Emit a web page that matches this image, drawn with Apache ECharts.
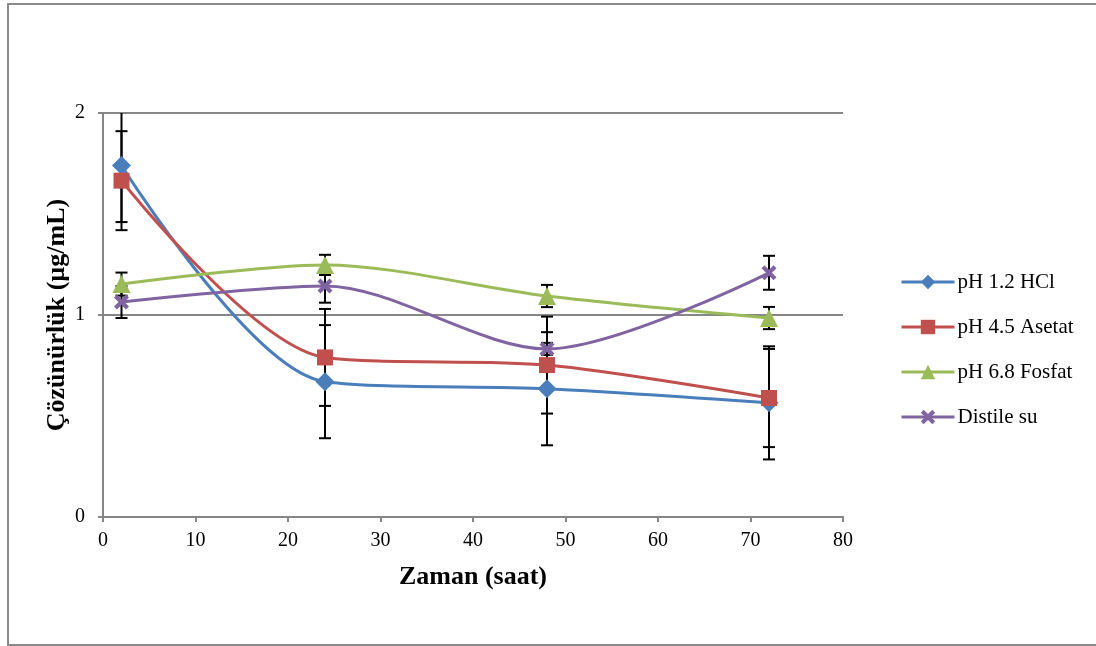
<!DOCTYPE html>
<html>
<head>
<meta charset="utf-8">
<script src="https://cdn.jsdelivr.net/npm/echarts@6/dist/echarts.min.js"></script>
<style>
  html, body { margin: 0; padding: 0; background: #fff; }
  #chart { width: 1096px; height: 646px; }
</style>
</head>
<body>
<div id="chart"></div>
<script>
// saat
const hours = [2, 24, 48, 72];
const xTicks = [0, 10, 20, 30, 40, 50, 60, 70, 80];
const yTicks = [0, 1, 2];

// Çözünürlük (µg/mL) ve standart sapma
const hcl = [1.74, 0.67, 0.635, 0.565];
const hclErr = [0.28, 0.28, 0.28, 0.28];
const asetat = [1.665, 0.79, 0.752, 0.589];
const asetatErr = [0.245, 0.24, 0.24, 0.243];
const fosfat = [1.153, 1.248, 1.094, 0.985];
const fosfatErr = [0.057, 0.05, 0.055, 0.055];
const distile = [1.064, 1.144, 0.832, 1.209];
const distileErr = [0.079, 0.083, 0.03, 0.084];

const font = '"Liberation Serif", "Times New Roman", serif';
const xMark = 'path://M0,2 L2,0 L5,3 L8,0 L10,2 L7,5 L10,8 L8,10 L5,7 L2,10 L0,8 L3,5 Z';

const groups = [
  { name: 'pH 1.2 HCl', vals: hcl, err: hclErr, color: '#4a7ebb', symbol: 'diamond', size: 19 },
  { name: 'pH 4.5 Asetat', vals: asetat, err: asetatErr, color: '#c0504d', symbol: 'rect', size: 16 },
  { name: 'pH 6.8 Fosfat', vals: fosfat, err: fosfatErr, color: '#9bbb59', symbol: 'triangle', size: 18 },
  { name: 'Distile su', vals: distile, err: distileErr, color: '#8064a2', symbol: xMark, size: 15 }
];

const errData = [];
groups.forEach(g => {
  hours.forEach((h, i) => {
    errData.push([h, g.vals[i] - g.err[i], g.vals[i] + g.err[i]]);
  });
});

const chart = echarts.init(document.getElementById('chart'));

const lineSeries = groups.map(g => ({
  name: g.name,
  type: 'line',
  smooth: 0.3,
  data: hours.map((h, i) => [h, g.vals[i]]),
  color: g.color,
  symbol: g.symbol,
  symbolSize: g.size,
  showAllSymbol: true,
  lineStyle: { width: 3, color: g.color },
  itemStyle: { color: g.color, borderWidth: 0 },
  z: 3
}));

const errSeries = {
  type: 'custom',
  name: 'err',
  clip: true,
  z: 2,
  data: errData,
  renderItem: (params, api) => {
    const top = api.coord([api.value(0), api.value(2)]);
    const bot = api.coord([api.value(0), api.value(1)]);
    const w = 6;
    const style = { stroke: '#000', lineWidth: 2 };
    return {
      type: 'group',
      children: [
        { type: 'line', shape: { x1: top[0], y1: top[1], x2: bot[0], y2: bot[1] }, style },
        { type: 'line', shape: { x1: top[0] - w, y1: top[1], x2: top[0] + w, y2: top[1] }, style },
        { type: 'line', shape: { x1: bot[0] - w, y1: bot[1], x2: bot[0] + w, y2: bot[1] }, style }
      ]
    };
  }
};

const option = {
  backgroundColor: '#fff',
  animation: false,
  graphic: [{
    type: 'rect',
    shape: { x: 8, y: 4, width: 1200, height: 641 },
    style: { fill: 'none', stroke: '#8a8a8a', lineWidth: 2 },
    silent: true
  }],
  grid: { left: 103, right: 253, top: 113, bottom: 129 },
  legend: {
    orient: 'vertical',
    left: 895,
    top: 266,
    itemWidth: 53,
    itemHeight: 18,
    itemGap: 23,
    data: groups.map(g => g.name),
    lineStyle: { width: 3 },
    textStyle: { fontFamily: font, fontSize: 21, lineHeight: 22, color: '#000', padding: [0, 0, 0, -2] }
  },
  xAxis: {
    type: 'value',
    min: xTicks[0],
    max: xTicks[xTicks.length - 1],
    interval: 10,
    name: 'Zaman (saat)',
    nameLocation: 'middle',
    nameGap: 47,
    nameMoveOverlap: false,
    nameTextStyle: { fontFamily: font, fontSize: 26, fontWeight: 'bold', color: '#000' },
    axisLine: { lineStyle: { color: '#868686', width: 2 } },
    axisTick: { show: true, inside: false, length: 5, lineStyle: { color: '#868686', width: 2 } },
    axisLabel: { fontFamily: font, fontSize: 20, color: '#000', margin: 14 },
    splitLine: { show: false }
  },
  yAxis: {
    type: 'value',
    min: yTicks[0],
    max: yTicks[yTicks.length - 1],
    interval: 1,
    name: 'Çözünürlük (µg/mL)',
    nameLocation: 'middle',
    nameGap: 33,
    nameMoveOverlap: false,
    nameTextStyle: { fontFamily: font, fontSize: 26, fontWeight: 'bold', color: '#000' },
    axisLine: { show: true, lineStyle: { color: '#868686', width: 2 } },
    axisTick: { show: true, inside: false, length: 5, lineStyle: { color: '#868686', width: 2 } },
    axisLabel: { fontFamily: font, fontSize: 20, color: '#000', margin: 18 },
    splitLine: { show: true, lineStyle: { color: '#868686', width: 2 } }
  },
  series: [errSeries].concat(lineSeries)
};

chart.setOption(option);
</script>
</body>
</html>
